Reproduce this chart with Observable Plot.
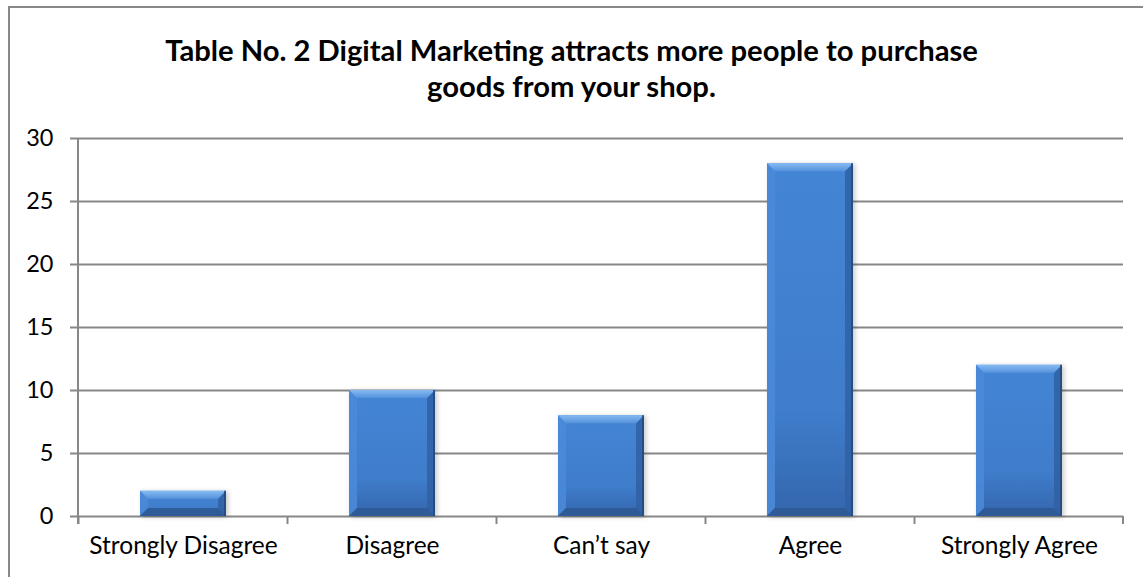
<!DOCTYPE html>
<html>
<head>
<meta charset="utf-8">
<script src="https://cdn.jsdelivr.net/npm/d3@7"></script>
<script src="https://cdn.jsdelivr.net/npm/@observablehq/plot@0.6"></script>
<style>
  html, body { margin: 0; padding: 0; background: #fff; }
  body { width: 1143px; height: 577px; position: relative; overflow: hidden; font-family: Lato, "Open Sans", sans-serif; }
  #frame { position: absolute; left: 8px; top: 6px; width: 1200px; height: 640px;
           border-left: 2px solid #888; border-top: 2px solid #888; }
  #title { position: absolute; left: 0; top: 32px; width: 1143px; text-align: center;
           font-weight: bold; font-size: 29.2px; line-height: 36px; color: #000; }
  #chart { position: absolute; left: 0; top: 110px; }
</style>
</head>
<body>
<div id="frame"></div>
<div id="title">Table No. 2 Digital Marketing attracts more people to purchase<br>goods from your shop.</div>
<div id="chart"></div>
<script>
// Survey responses
const categories = ["Strongly Disagree", "Disagree", "Can’t say", "Agree", "Strongly Agree"];
const counts = [2, 10, 8, 28, 12];
const yTicks = [0, 5, 10, 15, 20, 25, 30];

const data = categories.map((c, i) => ({category: c, count: counts[i]}));
const axisGray = "#878787";

// Gradient definitions for the bevelled bars
function defs() {
  const svg = d3.create("svg:defs");
  const face = svg.append("linearGradient").attr("id", "barFace").attr("x1", 0).attr("x2", 0).attr("y1", 0).attr("y2", 1);
  face.append("stop").attr("offset", "0%").attr("stop-color", "#4485d5");
  face.append("stop").attr("offset", "70%").attr("stop-color", "#3f7dcb");
  face.append("stop").attr("offset", "100%").attr("stop-color", "#3466ad");
  const top = svg.append("linearGradient").attr("id", "barTop").attr("x1", 0).attr("x2", 0).attr("y1", 0).attr("y2", 1);
  top.append("stop").attr("offset", "0%").attr("stop-color", "#86bbf2");
  top.append("stop").attr("offset", "100%").attr("stop-color", "#5592dc");
  const f = svg.append("filter").attr("id", "shadow").attr("x", "-20%").attr("y", "-20%").attr("width", "140%").attr("height", "140%");
  f.append("feDropShadow").attr("dx", 2).attr("dy", 1).attr("stdDeviation", 2.5).attr("flood-color", "#000").attr("flood-opacity", 0.22);
  return svg.node();
}

// Adds bevel facets on top of each rendered bar rect
function bevel(index, scales, values, dimensions, context, next) {
  const g = next(index, scales, values, dimensions, context);
  const b = 8;
  d3.select(g).attr("filter", "url(#shadow)");
  d3.select(g).selectAll("rect").each(function() {
    const r = d3.select(this);
    const x = +r.attr("x"), y = +r.attr("y"), w = +r.attr("width"), h = +r.attr("height");
    const e = Math.min(b, h / 2);
    const parent = d3.select(this.parentNode);
    const poly = (pts, fill, op = 1) => parent.append("polygon").attr("points", pts.map(p => p.join(",")).join(" ")).attr("fill", fill).attr("fill-opacity", op);
    poly([[x, y], [x + e, y + e], [x + e, y + h - e], [x, y + h]], "#4a89d8", 0.9);
    poly([[x + w, y], [x + w, y + h], [x + w - e, y + h - e], [x + w - e, y + e]], "#2f60a2", 0.85);
    poly([[x, y + h], [x + e, y + h - e], [x + w - e, y + h - e], [x + w, y + h]], "#2c5994", 0.9);
    poly([[x, y], [x + w, y], [x + w - e, y + e], [x + e, y + e]], "url(#barTop)");
    parent.append("line").attr("x1", x + w - 1).attr("x2", x + w - 1).attr("y1", y).attr("y2", y + h)
      .attr("stroke", "#24487a").attr("stroke-width", 2).attr("stroke-opacity", 0.8);
  });
  return g;
}

// Y axis line and category boundary ticks drawn from the band scale
function axisLines(index, {x, y}) {
  const g = d3.create("svg:g").attr("stroke", axisGray).attr("stroke-width", 2);
  const [x0, x1] = x.range();
  const [yb, yt] = y.range();
  g.append("line").attr("x1", x0).attr("x2", x0).attr("y1", yt).attr("y2", yb + 8);
  const half = x.step() / 2;
  const edges = categories.map(c => x(c) + x.bandwidth() / 2 - half).concat([x1]);
  for (const e of edges) g.append("line").attr("x1", e).attr("x2", e).attr("y1", yb).attr("y2", yb + 8);
  return g.node();
}

const chart = Plot.plot({
  width: 1143,
  height: 467,
  marginLeft: 78,
  marginRight: 20,
  marginTop: 28,
  marginBottom: 61,
  style: {fontFamily: "Lato, 'Open Sans', sans-serif", color: "#000", background: "transparent"},
  x: {domain: categories, paddingInner: 0.59, paddingOuter: 0.295, label: null},
  y: {domain: [0, 30], label: null},
  marks: [
    defs,
    Plot.ruleY(yTicks, {stroke: axisGray, strokeWidth: 2}),
    Plot.axisY({ticks: yTicks, tickSize: 8, tickPadding: 17, stroke: axisGray, strokeWidth: 2, strokeOpacity: 1, fontSize: 23.5, label: null}),
    Plot.axisX({tickSize: 0, tickPadding: 20, fontSize: 24.5, label: null}),
    axisLines,
    Plot.barY(data, {x: "category", y: "count", fill: "url(#barFace)", render: bevel})
  ]
});
document.getElementById("chart").appendChild(chart);
</script>
</body>
</html>
